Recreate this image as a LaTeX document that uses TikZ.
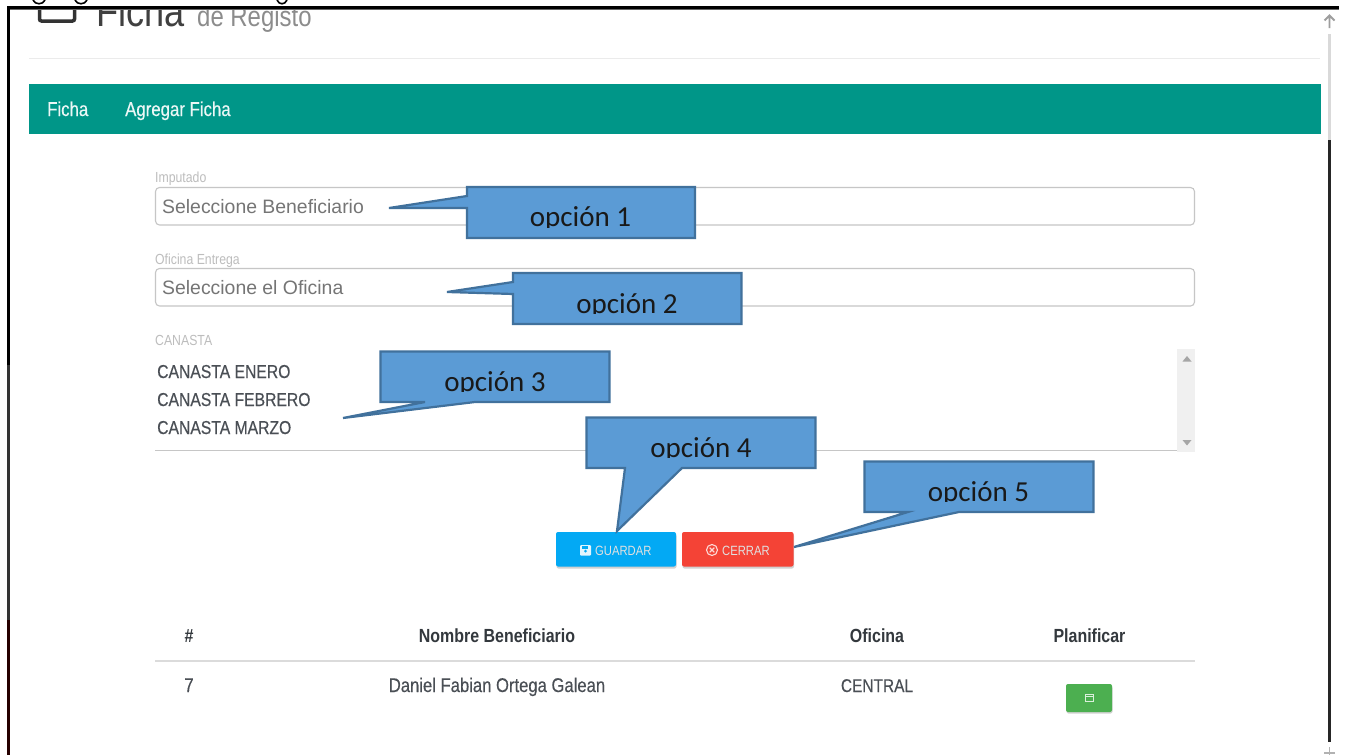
\documentclass[tikz,border=0pt]{standalone}
\usepackage{fontspec}
\setmainfont{Liberation Sans}
\newfontfamily\cond[FakeStretch=0.84,FakeBold=0.35]{Liberation Sans}
\newfontfamily\condlight[FakeStretch=0.84]{Liberation Sans}
\newfontfamily\callfont{Carlito}
\definecolor{teal}{HTML}{009688}
\definecolor{callfill}{HTML}{5B9BD5}
\definecolor{callline}{HTML}{41719C}
\definecolor{fieldline}{HTML}{C6C6C6}
\definecolor{labelgray}{HTML}{BDBDBD}
\definecolor{placegray}{HTML}{757575}
\definecolor{bodygray}{HTML}{4A4F55}
\definecolor{headgray}{HTML}{33383D}
\definecolor{saveblue}{HTML}{03A9F4}
\definecolor{closered}{HTML}{F44336}
\definecolor{okgreen}{HTML}{4CAF50}
\tikzset{
  callshape/.style={fill=callfill,draw=callline,line width=2.2pt,line join=miter},
  calltext/.style={anchor=base,inner sep=0pt,font=\callfont\fontsize{29}{31}\selectfont,text=black!90},
  flabel/.style={anchor=base west,inner sep=0pt,font=\condlight\fontsize{14.6}{16}\selectfont,text=labelgray},
  place/.style={anchor=base west,inner sep=0pt,font=\fontsize{19.4}{21}\selectfont,text=placegray},
  field/.style={draw=fieldline,line width=1.1pt,rounded corners=4pt,fill=white},
  listitem/.style={anchor=base west,inner sep=0pt,font=\cond\fontsize{18.7}{22}\selectfont,text=bodygray},
  headcell/.style={anchor=base,inner sep=0pt,font=\condlight\bfseries\fontsize{19}{22}\selectfont,text=headgray},
  bodycell/.style={anchor=base,inner sep=0pt,font=\cond\fontsize{19.8}{22}\selectfont,text=bodygray},
  btntext/.style={anchor=base west,inner sep=0pt,font=\condlight\fontsize{13.4}{15}\selectfont,text=white!88!black},
  navtext/.style={anchor=base west,inner sep=0pt,font=\cond\fontsize{20}{22}\selectfont,text=white!92!teal},
}
\begin{document}
\begin{tikzpicture}[x=1pt,y=-1pt]
\useasboundingbox (0,0) rectangle (1347,755);
\fill[white] (0,0) rectangle (1347,755);

% clipped heading
\begin{scope}
\clip (12,9) rectangle (400,60);
\draw[line width=3.5pt,draw=black!80,rounded corners=2pt] (39.5,0) rectangle (74.5,21);
\node[anchor=base west,inner sep=0pt,font=\condlight\fontsize{43}{45}\selectfont,text=black!75] (ficha) at (96,26) {Ficha};
\node[anchor=base west,inner sep=0pt,font=\condlight\fontsize{28.5}{30}\selectfont,text=black!45] (registo) at (197,26) {de Registo};
\end{scope}

% descender remnants above the frame
\draw[black,line width=1.6pt] (33,0) .. controls (35,5) and (43,5) .. (45,0);
\draw[black,line width=1.6pt] (75,0) .. controls (77,5) and (85,5) .. (87,0);
\draw[black,line width=1.6pt] (277,0) .. controls (279,5) and (285,5) .. (287,0);

% window frame
\fill[black] (7,6) rectangle (1339,9);
\fill[black!60] (7,9) rectangle (1339,9.6);
\fill[black] (7,6) rectangle (10,365);
\fill[black!80] (7.4,365) rectangle (9.6,620);
\fill[black!85!red] (7,620) rectangle (10,755);
\fill[black!15] (1328,34) rectangle (1331,140);
\fill[black!85] (1328,140) rectangle (1331,742);
\draw[black!38,line width=1.8pt] (1329.5,28) -- (1329.5,16) (1324.5,20.5) -- (1329.5,15.5) -- (1334.5,20.5);
\draw[black!30,line width=1.5pt] (1329.5,747) -- (1329.5,755) (1324,753) -- (1335,753);

% header rule and nav bar
\draw[black!8,line width=1pt] (29,58.5) -- (1320,58.5);
\fill[teal] (29,84) rectangle (1321,133.5);
\node[navtext] (nav1) at (47,116) {Ficha};
\node[navtext] (nav2) at (125,116) {Agregar Ficha};

% form fields
\node[flabel] (lab1) at (155,182) {Imputado};
\draw[field] (155.5,187.5) rectangle (1194.5,225);
\node[place] (sel1) at (162,213) {Seleccione Beneficiario};
\node[flabel] (lab2) at (155,264) {Oficina Entrega};
\draw[field] (155.5,268.5) rectangle (1194.5,306);
\node[place] (sel2) at (162,294) {Seleccione el Oficina};
\node[flabel] (lab3) at (155,345) {CANASTA};
\node[listitem] (it1) at (157,378) {CANASTA ENERO};
\node[listitem] (it2) at (157,406) {CANASTA FEBRERO};
\node[listitem] (it3) at (157,434) {CANASTA MARZO};
\draw[fieldline,line width=1pt] (155,450.5) -- (1177,450.5);
\fill[black!6] (1177,349) rectangle (1195,452);
\fill[black!35] (1182.5,361.5) -- (1187,356) -- (1191.5,361.5) -- cycle;
\fill[black!35] (1182.5,440) -- (1187,445.5) -- (1191.5,440) -- cycle;

% buttons
\fill[black!18,rounded corners=2pt] (556.5,534) rectangle (676.5,568.5);
\fill[saveblue,rounded corners=2pt] (556,532) rectangle (676,566.5);
\fill[white!88!saveblue,rounded corners=1pt] (580,545) rectangle (591,555.5);
\fill[saveblue] (582,546) rectangle (588,548.5);
\fill[saveblue] (585.5,551.2) circle (1.5);
\node[btntext] (guardar) at (595,555) {GUARDAR};
\fill[black!18,rounded corners=2pt] (682.5,534) rectangle (794,568.5);
\fill[closered,rounded corners=2pt] (682,532) rectangle (793.5,566.5);
\draw[white!80!closered,line width=1.1pt] (712,550) circle (5.5);
\draw[white!80!closered,line width=1.1pt] (709.7,547.7) -- (714.3,552.3) (714.3,547.7) -- (709.7,552.3);
\node[btntext] (cerrar) at (722,555) {CERRAR};

% table
\node[headcell] (h1) at (189,642) {\#};
\node[headcell] (h2) at (497,642) {Nombre Beneficiario};
\node[headcell] (h3) at (877,642) {Oficina};
\node[headcell] (h4) at (1089.5,642) {Planificar};
\draw[black!14,line width=2pt] (155,661) -- (1195,661);
\node[bodycell] (c1) at (189,692) {7};
\node[bodycell] (c2) at (497,692) {Daniel Fabian Ortega Galean};
\node[bodycell,font=\cond\fontsize{18.4}{22}\selectfont] (c3) at (877,692) {CENTRAL};
\fill[black!18,rounded corners=2pt] (1066.5,686) rectangle (1112.5,713.5);
\fill[okgreen,rounded corners=2pt] (1066,684) rectangle (1112,712);
\draw[white!80!okgreen,line width=0.9pt] (1085.5,694.5) rectangle (1093.5,701.5) (1085.5,696.7) -- (1093.5,696.7);

% callouts
\draw[callshape] (467,187) -- (695,187) -- (695,238) -- (467,238) -- (467,208) -- (389,208) -- (467,196) -- cycle;
\begin{scope}\clip (468,188) rectangle (694,227);
\node[calltext] (op1) at (580.5,226.5) {opción 1};\end{scope}

\draw[callshape] (513,273) -- (741.5,273) -- (741.5,324) -- (513,324) -- (513,294) -- (447,292) -- (513,282) -- cycle;
\begin{scope}\clip (514,274) rectangle (741,313.5);
\node[calltext] (op2) at (627,313) {opción 2};\end{scope}

\draw[callshape] (380.5,351.5) -- (609.5,351.5) -- (609.5,402) -- (475,402) -- (343,418) -- (425,402) -- (380.5,402) -- cycle;
\begin{scope}\clip (381,352) rectangle (609,391.5);
\node[calltext] (op3) at (495,391) {opción 3};\end{scope}

\draw[callshape] (586.5,417.5) -- (815.5,417.5) -- (815.5,468) -- (682,468) -- (617,531) -- (625,468) -- (586.5,468) -- cycle;
\begin{scope}\clip (587,418) rectangle (815,457.5);
\node[calltext] (op4) at (701,457) {opción 4};\end{scope}

\draw[callshape] (864.5,461.5) -- (1093.5,461.5) -- (1093.5,512) -- (959,512) -- (794,547) -- (908,512) -- (864.5,512) -- cycle;
\begin{scope}\clip (865,462) rectangle (1093,501.5);
\node[calltext] (op5) at (978.5,501) {opción 5};\end{scope}
\end{tikzpicture}
\end{document}
